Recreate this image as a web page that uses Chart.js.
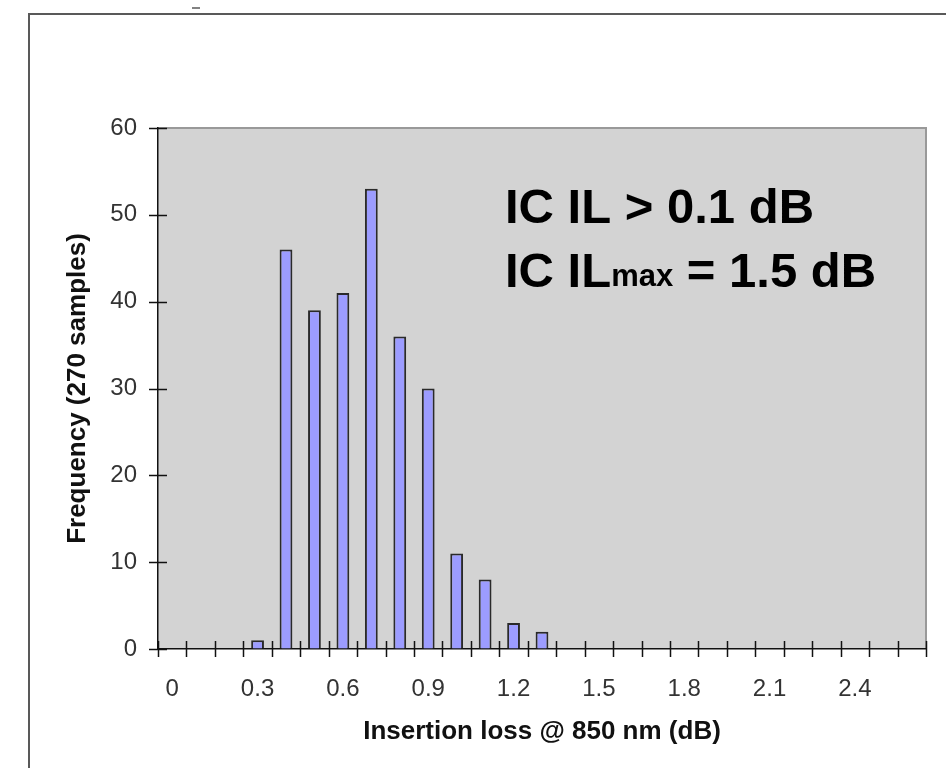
<!DOCTYPE html>
<html>
<head>
<meta charset="utf-8">
<script src="https://cdn.jsdelivr.net/npm/chart.js@4.4.1/dist/chart.umd.min.js"></script>
<style>
  html, body { margin: 0; padding: 0; background: #fff; }
  canvas { display: block; }
</style>
</head>
<body>
<canvas id="il_chart" width="946" height="768"></canvas>
<script>
// histogram bins (dB) and counts
const bins = ['0', '0.1', '0.2', '0.3', '0.4', '0.5', '0.6', '0.7', '0.8', '0.9',
    '1.0', '1.1', '1.2', '1.3', '1.4', '1.5', '1.6', '1.7', '1.8', '1.9',
    '2.0', '2.1', '2.2', '2.3', '2.4', '2.5', '2.6'];
const counts = [0, 0, 0, 1, 46, 39, 41, 53, 36, 30,
    11, 8, 3, 2, 0, 0, 0, 0, 0, 0,
    0, 0, 0, 0, 0, 0, 0];
const xTickLabels = ['0', '0.3', '0.6', '0.9', '1.2', '1.5', '1.8', '2.1', '2.4'];
const yTicks = [0, 10, 20, 30, 40, 50, 60];

const FONT = "'Liberation Sans', Arial, sans-serif";

// page frame, gray plot area, plot border
const backdrop = {
    id: 'backdrop',
    beforeDraw(chart) {
        const c = chart.ctx;
        const a = chart.chartArea;
        c.save();
        c.fillStyle = '#fff';
        c.fillRect(0, 0, chart.width, chart.height);
        c.strokeStyle = '#595959';
        c.lineWidth = 2;
        c.beginPath();
        c.moveTo(29, 768);
        c.lineTo(29, 14);
        c.lineTo(946, 14);
        c.stroke();
        c.lineWidth = 1.5;
        c.beginPath();
        c.moveTo(192, 8);
        c.lineTo(200, 8);
        c.stroke();
        c.fillStyle = '#d3d3d3';
        c.fillRect(a.left, a.top, a.right - a.left, a.bottom - a.top);
        c.strokeStyle = '#999';
        c.lineWidth = 2;
        c.beginPath();
        c.moveTo(a.left, a.top);
        c.lineTo(a.right, a.top);
        c.lineTo(a.right, a.bottom);
        c.stroke();
        c.restore();
    }
};

// tick marks crossing both axes
const crossTicks = {
    id: 'crossTicks',
    afterDraw(chart) {
        const c = chart.ctx;
        const a = chart.chartArea;
        const x = chart.scales.x;
        const y = chart.scales.y;
        const step = (a.right - a.left) / bins.length;
        c.save();
        c.strokeStyle = '#111';
        c.lineWidth = 1.5;
        c.beginPath();
        for (let i = 0; i <= bins.length; i++) {
            const px = Math.round(x.getPixelForValue(i) - step / 2) + 0.5;
            c.moveTo(px, a.bottom - 8);
            c.lineTo(px, a.bottom + 8);
        }
        yTicks.forEach(v => {
            const py = Math.round(y.getPixelForValue(v)) + 0.5;
            c.moveTo(a.left - 9, py);
            c.lineTo(a.left + 9, py);
        });
        c.stroke();
        c.restore();
    }
};

// the two annotation lines
const notes = {
    id: 'notes',
    afterDatasetsDraw(chart) {
        const c = chart.ctx;
        c.save();
        c.fillStyle = '#000';
        c.textBaseline = 'alphabetic';
        c.textAlign = 'left';
        c.font = 'bold 49px ' + FONT;
        c.fillText('IC IL > 0.1 dB', 505, 223);
        let px = 505;
        c.fillText('IC IL', px, 287);
        px += c.measureText('IC IL').width;
        c.font = 'bold 31px ' + FONT;
        c.fillText('max', px, 286);
        px += c.measureText('max').width;
        c.font = 'bold 49px ' + FONT;
        c.fillText(' = 1.5 dB', px, 287);
        c.restore();
    }
};

const ctx = document.getElementById('il_chart').getContext('2d');

new Chart(ctx, {
    type: 'bar',
    data: {
        labels: bins,
        datasets: [
            {
                label: 'Frequency',
                data: counts,
                backgroundColor: '#9c9cff',
                borderColor: '#2a2a2a',
                borderWidth: 2,
                borderSkipped: 'bottom',
                barPercentage: 0.45,
                categoryPercentage: 1.0
            }
        ]
    },
    options: {
        responsive: false,
        animation: false,
        layout: {
            padding: { left: 0, top: 128, right: 20, bottom: 0 }
        },
        plugins: {
            legend: { display: false },
            tooltip: { enabled: false }
        },
        scales: {
            x: {
                grid: { display: true, drawOnChartArea: false, drawTicks: false },
                border: { display: true, color: '#111', width: 1.5 },
                ticks: {
                    autoSkip: false,
                    maxRotation: 0,
                    padding: 26,
                    color: '#333',
                    font: { family: FONT, size: 24 },
                    callback: function(value, index) {
                        return xTickLabels.includes(bins[index]) ? bins[index] : '';
                    }
                },
                title: {
                    display: true,
                    text: 'Insertion loss @ 850 nm (dB)',
                    color: '#111',
                    font: { family: FONT, size: 26, weight: 'bold' },
                    padding: { top: 0, bottom: 21 }
                },
                afterFit: function(scale) {
                    scale.height = 119;
                }
            },
            y: {
                min: 0,
                max: 60,
                grid: { display: true, drawOnChartArea: false, drawTicks: false },
                border: { display: true, color: '#111', width: 1.5 },
                ticks: {
                    stepSize: 10,
                    padding: 21,
                    color: '#333',
                    font: { family: FONT, size: 24 }
                },
                title: {
                    display: true,
                    text: 'Frequency (270 samples)',
                    color: '#111',
                    font: { family: FONT, size: 26, weight: 'bold' },
                    padding: { top: 62, bottom: 0 }
                },
                afterFit: function(scale) {
                    scale.width = 158;
                }
            }
        }
    },
    plugins: [backdrop, crossTicks, notes]
});
</script>
</body>
</html>
